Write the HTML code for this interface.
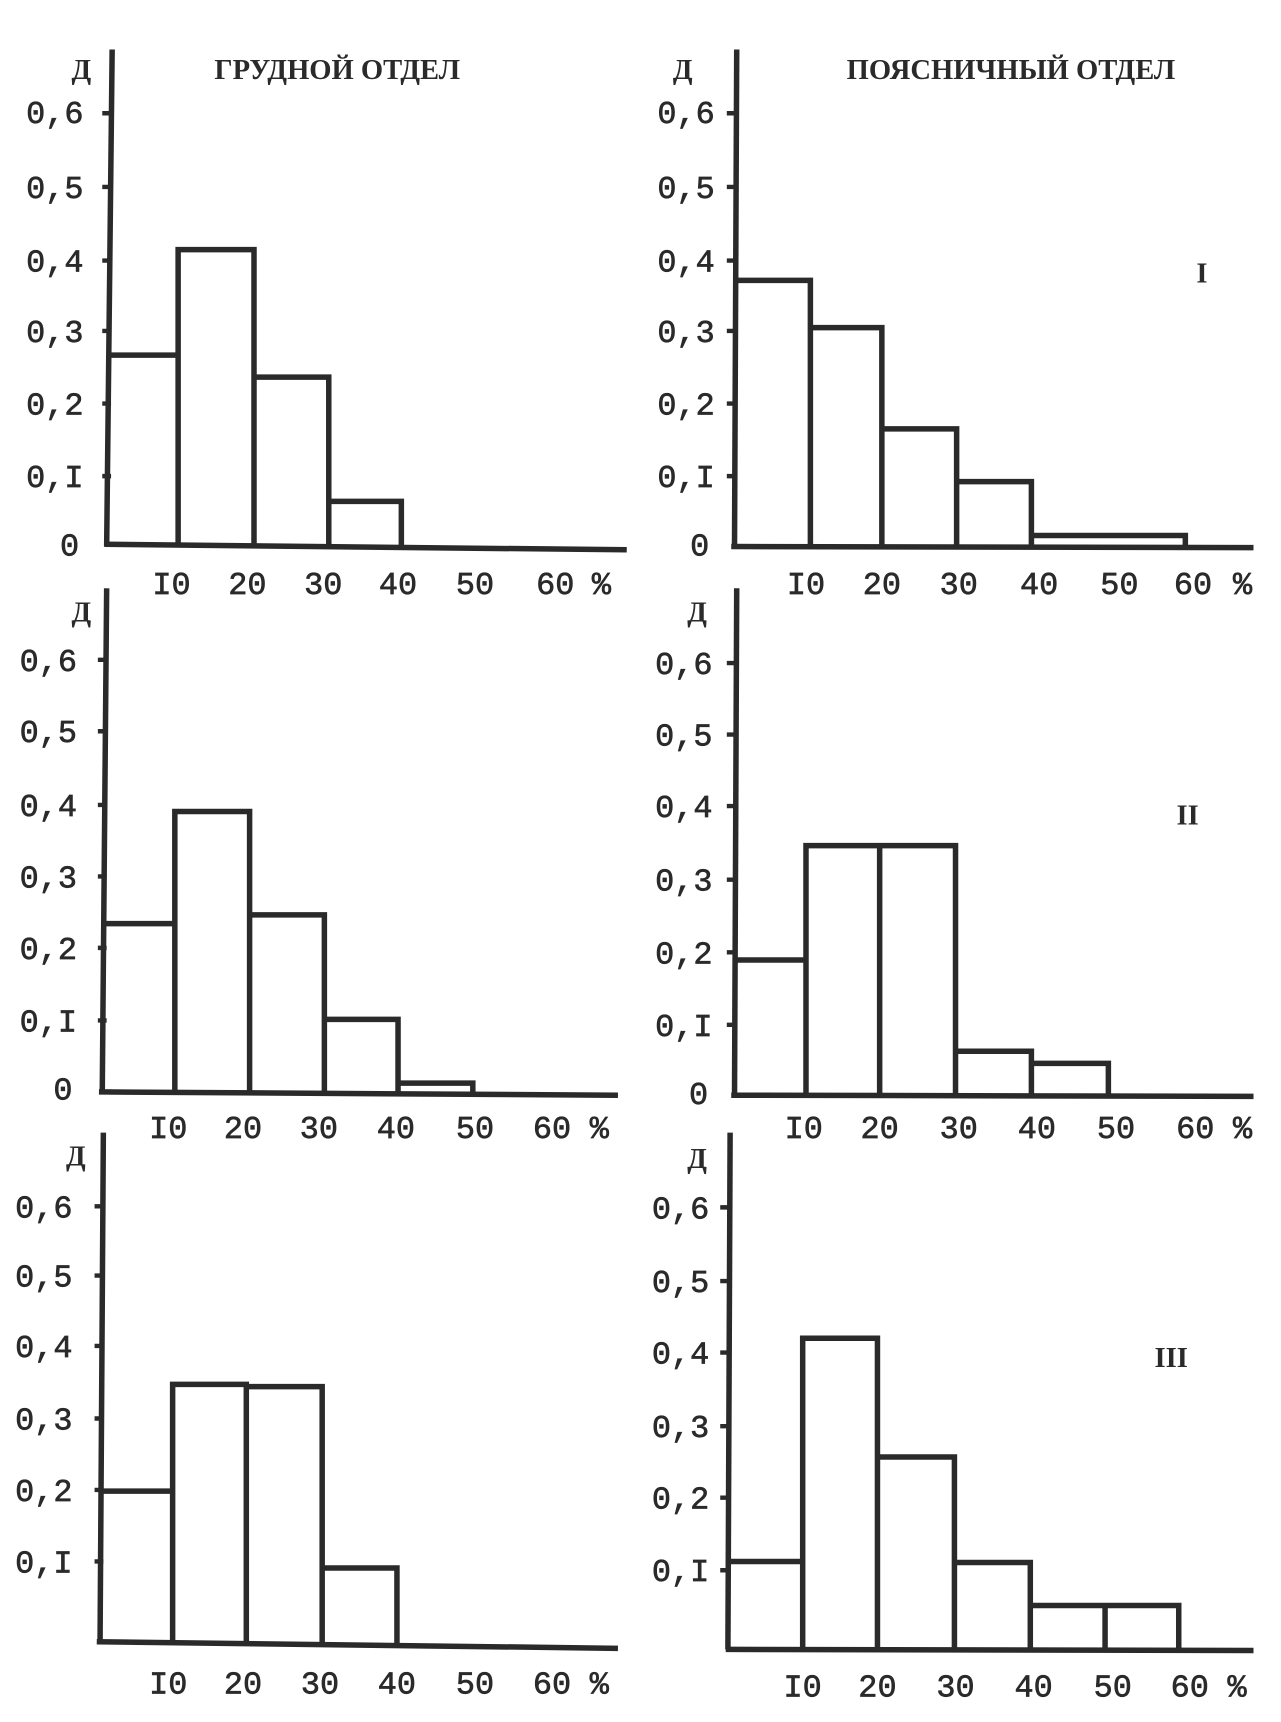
<!DOCTYPE html>
<html><head><meta charset="utf-8"><style>
html,body{margin:0;padding:0;background:#fff;}
svg{display:block}
text{font-family:"Liberation Mono","DejaVu Sans Mono",monospace;fill:#2a2a2a;font-size:29px;stroke:#2a2a2a;stroke-width:0.6}
.t{font-family:"Liberation Serif",serif;font-weight:bold;font-size:26px;stroke-width:0}
path,line{stroke:#2a2a2a;fill:none;stroke-width:5;stroke-linejoin:miter}
.k{stroke-width:4}
</style></head><body>
<svg width="1281" height="1722" viewBox="0 0 1165 1566" preserveAspectRatio="none">
<!-- TL -->
<line x1="102" y1="45" x2="97" y2="497"/>
<line x1="95" y1="495" x2="570" y2="500"/>
<path d="M97 323 H162 V497 M162 497 V227 H231 V497 M231 343 H299 V497 M299 456 H365 V497"/>
<path class="k" d="M93 103h8M93 170h8M93 237h8M93 301h8M93 367h8M93 433h8"/>
<text x="65" y="72" class="t">Д</text>
<text x="195" y="72" class="t">ГРУДНОЙ ОТДЕЛ</text>
<g text-anchor="end"><text x="76" y="112">0,6</text><text x="76" y="180">0,5</text><text x="76" y="247">0,4</text><text x="76" y="311">0,3</text><text x="76" y="377">0,2</text><text x="76" y="443">0,I</text><text x="72" y="505">0</text></g>
<g text-anchor="middle"><text x="156" y="540">I0</text><text x="225" y="540">20</text><text x="294" y="540">30</text><text x="362" y="540">40</text><text x="432" y="540">50</text><text x="505" y="540">60</text><text x="547" y="540">%</text></g>
<!-- TR -->
<line x1="670" y1="45" x2="668" y2="497"/>
<line x1="665" y1="497" x2="1140" y2="498"/>
<path d="M668 255 H737 V497 M737 298 H802 V497 M802 390 H870 V497 M870 438 H938 V497 M938 487 H1078 V497"/>
<path class="k" d="M661 103h8M661 170h8M661 237h8M661 301h8M661 367h8M661 433h8"/>
<text x="612" y="72" class="t">Д</text>
<text x="770" y="72" class="t">ПОЯСНИЧНЫЙ ОТДЕЛ</text>
<text x="1088" y="257" class="t">I</text>
<g text-anchor="end"><text x="650" y="112">0,6</text><text x="650" y="180">0,5</text><text x="650" y="247">0,4</text><text x="650" y="311">0,3</text><text x="650" y="377">0,2</text><text x="650" y="443">0,I</text><text x="645" y="505">0</text></g>
<g text-anchor="middle"><text x="733" y="540">I0</text><text x="802" y="540">20</text><text x="872" y="540">30</text><text x="945" y="540">40</text><text x="1018" y="540">50</text><text x="1085" y="540">60</text><text x="1130" y="540">%</text></g>
<!-- ML -->
<line x1="97" y1="535" x2="93" y2="993"/>
<line x1="90" y1="993" x2="562" y2="996"/>
<path d="M93 840 H159 V993 M159 993 V738 H227 V993 M227 832 H295 V993 M295 927 H362 V993 M362 985 H430 V993"/>
<path class="k" d="M89 600h8M89 665h8M89 732h8M89 797h8M89 862h8M89 928h8"/>
<text x="65" y="565" class="t">Д</text>
<g text-anchor="end"><text x="70" y="610">0,6</text><text x="70" y="675">0,5</text><text x="70" y="742">0,4</text><text x="70" y="807">0,3</text><text x="70" y="872">0,2</text><text x="70" y="938">0,I</text><text x="66" y="1000">0</text></g>
<g text-anchor="middle"><text x="153" y="1035">I0</text><text x="221" y="1035">20</text><text x="290" y="1035">30</text><text x="360" y="1035">40</text><text x="432" y="1035">50</text><text x="502" y="1035">60</text><text x="545" y="1035">%</text></g>
<!-- MR -->
<line x1="670" y1="535" x2="668" y2="996"/>
<line x1="665" y1="996" x2="1140" y2="997"/>
<path d="M668 873 H733 V996 M733 996 V769 H869 V996 M800 769 V996 M869 956 H938 V996 M938 967 H1008 V996"/>
<path class="k" d="M661 603h8M661 668h8M661 733h8M661 800h8M661 866h8M661 932h8"/>
<text x="625" y="565" class="t">Д</text>
<text x="1070" y="750" class="t">II</text>
<g text-anchor="end"><text x="648" y="613">0,6</text><text x="648" y="678">0,5</text><text x="648" y="743">0,4</text><text x="648" y="810">0,3</text><text x="648" y="876">0,2</text><text x="648" y="942">0,I</text><text x="644" y="1004">0</text></g>
<g text-anchor="middle"><text x="731" y="1035">I0</text><text x="800" y="1035">20</text><text x="872" y="1035">30</text><text x="943" y="1035">40</text><text x="1015" y="1035">50</text><text x="1087" y="1035">60</text><text x="1130" y="1035">%</text></g>
<!-- BL -->
<line x1="94" y1="1030" x2="91" y2="1493"/>
<line x1="88" y1="1493" x2="562" y2="1499"/>
<path d="M91 1356 H157 V1495 M157 1495 V1259 H224 V1496 M224 1261 H293 V1496 M293 1426 H361 V1497"/>
<path class="k" d="M86 1097h8M86 1160h8M86 1224h8M86 1290h8M86 1355h8M86 1420h8"/>
<text x="60" y="1060" class="t">Д</text>
<g text-anchor="end"><text x="66" y="1107">0,6</text><text x="66" y="1170">0,5</text><text x="66" y="1234">0,4</text><text x="66" y="1300">0,3</text><text x="66" y="1365">0,2</text><text x="66" y="1430">0,I</text></g>
<g text-anchor="middle"><text x="153" y="1540">I0</text><text x="221" y="1540">20</text><text x="291" y="1540">30</text><text x="361" y="1540">40</text><text x="432" y="1540">50</text><text x="502" y="1540">60</text><text x="545" y="1540">%</text></g>
<!-- BR -->
<line x1="664" y1="1030" x2="662" y2="1500"/>
<line x1="660" y1="1500" x2="1140" y2="1501"/>
<path d="M662 1420 H730 V1500 M730 1500 V1217 H798 V1500 M798 1325 H868 V1500 M868 1421 H937 V1500 M937 1460 H1072 V1500 M1005 1460 V1500"/>
<path class="k" d="M655 1098h8M655 1165h8M655 1230h8M655 1297h8M655 1362h8M655 1428h8"/>
<text x="625" y="1062" class="t">Д</text>
<text x="1050" y="1243" class="t">III</text>
<g text-anchor="end"><text x="645" y="1108">0,6</text><text x="645" y="1175">0,5</text><text x="645" y="1240">0,4</text><text x="645" y="1307">0,3</text><text x="645" y="1372">0,2</text><text x="645" y="1438">0,I</text></g>
<g text-anchor="middle"><text x="730" y="1543">I0</text><text x="798" y="1543">20</text><text x="869" y="1543">30</text><text x="940" y="1543">40</text><text x="1012" y="1543">50</text><text x="1082" y="1543">60</text><text x="1125" y="1543">%</text></g>
</svg>
</body></html>
